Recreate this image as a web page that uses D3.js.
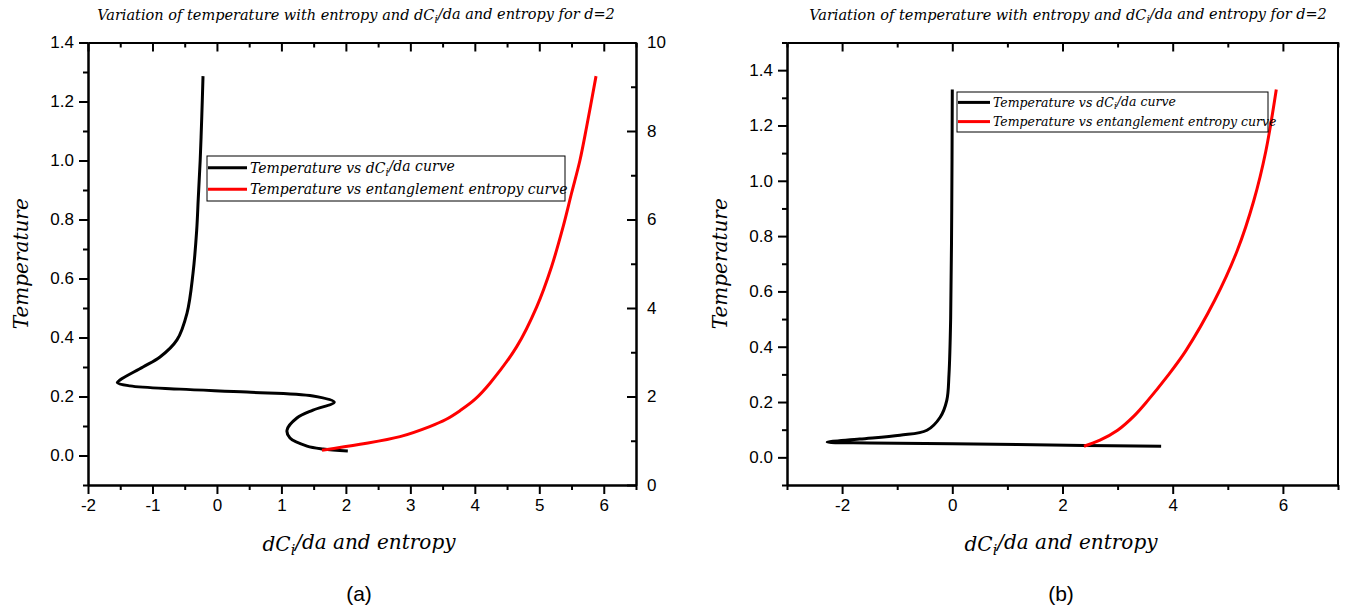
<!DOCTYPE html>
<html>
<head>
<meta charset="utf-8">
<script src="https://cdn.jsdelivr.net/npm/d3@7"></script>
<style>
  body { margin: 0; background: #fff; }
  .tick text { font-family: "Liberation Sans", Arial, sans-serif; font-size: 17px; fill: #000; }
  .serif-it { font-family: "DejaVu Serif", Georgia, serif; font-style: italic; fill: #000; }
</style>
</head>
<body>
<svg id="chart" width="1351" height="611"></svg>
<script>
// --- datos ---
// (a) T vs dC_i/da
const aDcX = [-0.216, -0.235, -0.26, -0.29, -0.314, -0.371, -0.464, -0.62, -0.883, -1.147, -1.504, -1.545, -1.35, -0.573, 0.466, 1.49, 1.82, 1.49, 1.24, 1.087, 1.133, 1.397, 1.645, 2.03];
const aDcT = [1.286, 1.15, 1.0, 0.87, 0.764, 0.618, 0.483, 0.392, 0.334, 0.30, 0.256, 0.247, 0.236, 0.225, 0.215, 0.202, 0.181, 0.154, 0.127, 0.086, 0.059, 0.032, 0.022, 0.015];
// (a) T vs entanglement entropy
const aEntX = [1.63, 2.22, 2.84, 3.30, 3.55, 3.77, 4.0, 4.235, 4.65, 4.96, 5.19, 5.37, 5.50, 5.63, 5.735, 5.88];
const aEntT = [0.018, 0.038, 0.064, 0.098, 0.122, 0.152, 0.19, 0.245, 0.369, 0.504, 0.64, 0.776, 0.889, 1.0, 1.115, 1.286];
// (b) T vs dC_i/da
const bDcX = [0.0, -0.01, -0.03, -0.06, -0.1, -0.22, -0.46, -0.95, -1.68, -2.27, -1.5, 0.0, 2.4, 3.79];
const bDcT = [1.33, 0.9, 0.5, 0.3, 0.206, 0.145, 0.098, 0.08, 0.066, 0.055, 0.052, 0.049, 0.043, 0.04];
// (b) T vs entanglement entropy
const bEntX = [2.39, 2.68, 3.0, 3.3, 3.55, 3.89, 4.24, 4.76, 5.17, 5.47, 5.69, 5.88];
const bEntT = [0.04, 0.062, 0.098, 0.15, 0.206, 0.29, 0.386, 0.567, 0.747, 0.927, 1.107, 1.33];

// ticks
const xTicksA = [-2, -1, 0, 1, 2, 3, 4, 5, 6];
const xMinorA = [-1.5, -0.5, 0.5, 1.5, 2.5, 3.5, 4.5, 5.5, 6.5];
const yTicks = [0, 0.2, 0.4, 0.6, 0.8, 1.0, 1.2, 1.4];
const yMinorA = [-0.1, 0.1, 0.3, 0.5, 0.7, 0.9, 1.1, 1.3];
const yMinorB = [-0.1, 0.1, 0.3, 0.5, 0.7, 0.9, 1.1, 1.3, 1.5];
const rTicksA = [0, 2, 4, 6, 8, 10];
const rMinorA = [1, 3, 5, 7, 9];
const xTicksB = [-2, 0, 2, 4, 6];
const xMinorB = [-3, -1, 1, 3, 5, 7];

const titleText = ['Variation of temperature with entropy and dC', 'i', '/da and entropy for d=2'];
const xLabelText = ['dC', 'i', '/da and entropy'];
const legendText = [['Temperature vs dC', 'i', '/da curve'], ['Temperature vs entanglement entropy curve']];

const svg = d3.select('#chart');
const MAJ = 9, MIN = 5;

function richText(sel, parts) {
  sel.append('tspan').text(parts[0]);
  if (parts.length > 1) {
    sel.append('tspan').attr('dy', '0.3em').attr('font-size', '0.72em').text(parts[1]);
    sel.append('tspan').attr('dy', '-0.3em').text(parts[2]);
  }
}

function panel(cfg) {
  const x = d3.scaleLinear().domain(cfg.xDom).range([cfg.left, cfg.right]);
  const y = d3.scaleLinear().domain(cfg.yDom).range([cfg.bottom, cfg.top]);
  const g = svg.append('g');
  const fmtX = d => String(d);

  const style = sel => {
    sel.selectAll('path.domain').attr('stroke', '#000').attr('stroke-width', 2);
    sel.selectAll('.tick line').attr('stroke', '#000').attr('stroke-width', 2);
  };

  // abajo
  g.append('g').attr('transform', `translate(0,${cfg.bottom})`)
    .call(d3.axisBottom(x).tickValues(cfg.xTicks).tickFormat(fmtX).tickSizeInner(MAJ).tickSizeOuter(0).tickPadding(5))
    .call(style);
  g.append('g').attr('transform', `translate(0,${cfg.bottom})`)
    .call(d3.axisBottom(x).tickValues(cfg.xMinor).tickFormat('').tickSizeInner(MIN).tickSizeOuter(0))
    .call(style);
  // arriba (hacia adentro)
  g.append('g').attr('transform', `translate(0,${cfg.top})`)
    .call(d3.axisTop(x).tickValues(cfg.xTicks).tickFormat('').tickSizeInner(-MAJ).tickSizeOuter(0))
    .call(style);
  g.append('g').attr('transform', `translate(0,${cfg.top})`)
    .call(d3.axisTop(x).tickValues(cfg.xMinor).tickFormat('').tickSizeInner(-MIN).tickSizeOuter(0))
    .call(style);
  // izquierda
  g.append('g').attr('transform', `translate(${cfg.left},0)`)
    .call(d3.axisLeft(y).tickValues(yTicks).tickFormat(d3.format('.1f')).tickSizeInner(MAJ).tickSizeOuter(0).tickPadding(5))
    .call(style);
  g.append('g').attr('transform', `translate(${cfg.left},0)`)
    .call(d3.axisLeft(y).tickValues(cfg.yMinor).tickFormat('').tickSizeInner(MIN).tickSizeOuter(0))
    .call(style);
  // derecha
  if (cfg.rDom) {
    const yr = d3.scaleLinear().domain(cfg.rDom).range([cfg.bottom, cfg.top]);
    g.append('g').attr('transform', `translate(${cfg.right},0)`)
      .call(d3.axisRight(yr).tickValues(rTicksA).tickFormat(fmtX).tickSizeInner(-MAJ).tickSizeOuter(0).tickPadding(11))
      .call(style);
    g.append('g').attr('transform', `translate(${cfg.right},0)`)
      .call(d3.axisRight(yr).tickValues(rMinorA).tickFormat('').tickSizeInner(-MIN).tickSizeOuter(0))
      .call(style);
  } else {
    g.append('line').attr('x1', cfg.right).attr('x2', cfg.right)
      .attr('y1', cfg.top).attr('y2', cfg.bottom)
      .attr('stroke', '#000').attr('stroke-width', 2);
  }

  // curvas
  const line = d3.line().x(d => x(d[0])).y(d => y(d[1])).curve(d3.curveCatmullRom.alpha(0.5));
  const series = [
    { xs: cfg.dcX, ts: cfg.dcT, color: '#000' },
    { xs: cfg.entX, ts: cfg.entT, color: '#ff0000' }
  ];
  g.selectAll('path.curve').data(series).join('path')
    .attr('class', 'curve')
    .attr('d', s => line(s.xs.map((v, i) => [v, s.ts[i]])))
    .attr('fill', 'none').attr('stroke', s => s.color)
    .attr('stroke-width', 3).attr('stroke-linejoin', 'round');

  // título
  richText(g.append('text').attr('class', 'serif-it')
    .attr('x', cfg.titleX).attr('y', 20).attr('text-anchor', 'middle')
    .attr('font-size', 14.5), titleText);

  // etiquetas de ejes
  g.append('text').attr('class', 'serif-it')
    .attr('transform', `translate(${cfg.left - 60},${(cfg.top + cfg.bottom) / 2}) rotate(-90)`)
    .attr('text-anchor', 'middle').attr('font-size', 20).text('Temperature');
  richText(g.append('text').attr('class', 'serif-it')
    .attr('x', cfg.labelX).attr('y', 551).attr('text-anchor', 'middle')
    .attr('font-size', 20), xLabelText);
  g.append('text').attr('x', cfg.labelX).attr('y', 601).attr('text-anchor', 'middle')
    .attr('font-family', '"Liberation Sans", Arial, sans-serif').attr('font-size', 21)
    .text(cfg.tag);

  // leyenda
  const L = cfg.legend;
  const lg = g.append('g').attr('transform', `translate(${L.x},${L.y})`);
  lg.append('rect').attr('width', L.w).attr('height', L.h)
    .attr('fill', '#fff').attr('stroke', '#000').attr('stroke-width', 1);
  ['#000', '#ff0000'].forEach((c, i) => {
    const yy = L.h * (i === 0 ? 0.26 : 0.74);
    lg.append('line').attr('x1', 1).attr('x2', L.sw).attr('y1', yy).attr('y2', yy)
      .attr('stroke', c).attr('stroke-width', 3);
    richText(lg.append('text').attr('class', 'serif-it')
      .attr('x', L.sw + 3).attr('y', yy + L.fs * 0.35).attr('font-size', L.fs), legendText[i]);
  });
}

panel({
  left: 88, right: 636, top: 42.5, bottom: 485,
  xDom: [-2, 6.5], yDom: [-0.1, 1.4], rDom: [0, 10],
  xTicks: xTicksA, xMinor: xMinorA, yMinor: yMinorA,
  dcX: aDcX, dcT: aDcT, entX: aEntX, entT: aEntT,
  titleX: 356, labelX: 359, tag: '(a)',
  legend: { x: 207, y: 156, w: 358, h: 45, sw: 40, fs: 14 }
});

panel({
  left: 787, right: 1338, top: 42.5, bottom: 485,
  xDom: [-3, 7], yDom: [-0.1, 1.5], rDom: null,
  xTicks: xTicksB, xMinor: xMinorB, yMinor: yMinorB,
  dcX: bDcX, dcT: bDcT, entX: bEntX, entT: bEntT,
  titleX: 1068, labelX: 1061, tag: '(b)',
  legend: { x: 957, y: 92, w: 311, h: 40, sw: 33, fs: 12.5 }
});
</script>
</body>
</html>
